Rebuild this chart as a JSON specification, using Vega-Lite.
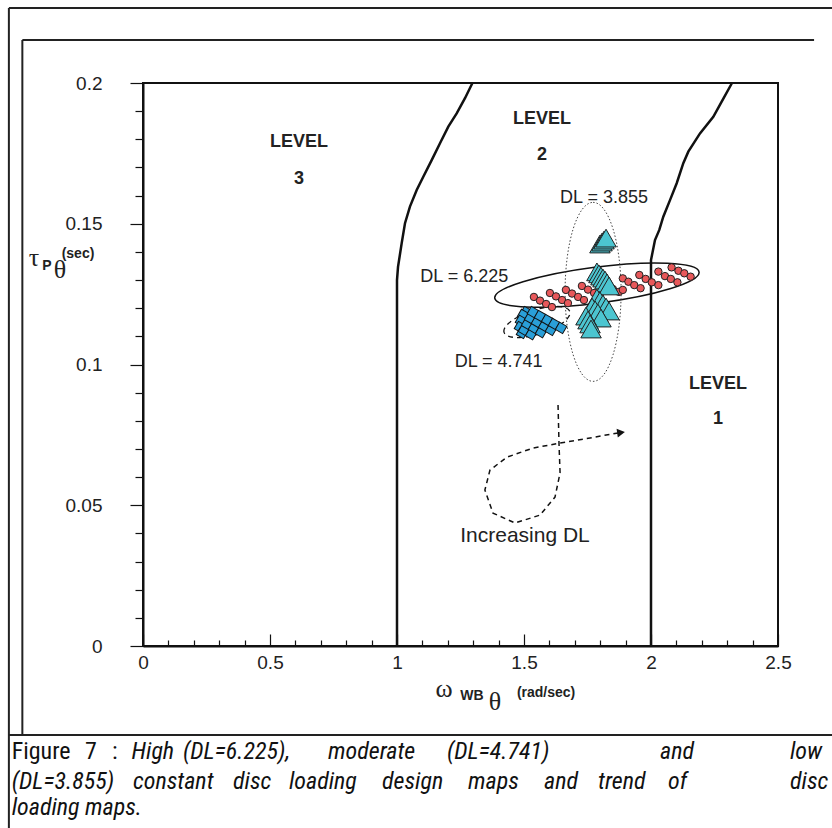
{
  "$schema": "https://vega.github.io/schema/vega-lite/v6.json",
  "width": 635,
  "height": 563,
  "autosize": "none",
  "padding": {"left": 143, "top": 83, "right": 54, "bottom": 182},
  "background": "white",
  "config": {"view": {"stroke": "#111", "strokeWidth": 2}, "font": "Liberation Sans"},
  "datasets": {
    "frame": [
      {"x": -0.528, "x2": 2.72, "y": 0.2266, "y2": 0.2266},
      {"x": -0.528, "x2": -0.528, "y": 0.2266, "y2": -0.07},
      {"x": -0.475, "x2": 2.642, "y": 0.2153, "y2": 0.2153},
      {"x": -0.475, "x2": -0.475, "y": 0.2153, "y2": -0.0316},
      {"x": -0.528, "x2": 2.72, "y": -0.0316, "y2": -0.0316}
    ],
    "curves": [
      {"c": "a", "o": 0, "x": 1.0, "y": 0},
      {"c": "a", "o": 1, "x": 1.0, "y": 0.13},
      {"c": "a", "o": 2, "x": 1.004, "y": 0.1347},
      {"c": "a", "o": 3, "x": 1.0185, "y": 0.1431},
      {"c": "a", "o": 4, "x": 1.0315, "y": 0.1502},
      {"c": "a", "o": 5, "x": 1.051, "y": 0.1561},
      {"c": "a", "o": 6, "x": 1.0776, "y": 0.162},
      {"c": "a", "o": 7, "x": 1.1035, "y": 0.1667},
      {"c": "a", "o": 8, "x": 1.1366, "y": 0.1726},
      {"c": "a", "o": 9, "x": 1.1693, "y": 0.1786},
      {"c": "a", "o": 10, "x": 1.202, "y": 0.1845},
      {"c": "a", "o": 11, "x": 1.235, "y": 0.1892},
      {"c": "a", "o": 12, "x": 1.2677, "y": 0.1946},
      {"c": "a", "o": 13, "x": 1.297, "y": 0.2},
      {"c": "b", "o": 0, "x": 2.0, "y": 0},
      {"c": "b", "o": 1, "x": 2.0, "y": 0.1371},
      {"c": "b", "o": 2, "x": 2.0157, "y": 0.1442},
      {"c": "b", "o": 3, "x": 2.0327, "y": 0.1478},
      {"c": "b", "o": 4, "x": 2.0484, "y": 0.1525},
      {"c": "b", "o": 5, "x": 2.0748, "y": 0.1584},
      {"c": "b", "o": 6, "x": 2.1012, "y": 0.1644},
      {"c": "b", "o": 7, "x": 2.1272, "y": 0.1715},
      {"c": "b", "o": 8, "x": 2.1469, "y": 0.1756},
      {"c": "b", "o": 9, "x": 2.1929, "y": 0.1821},
      {"c": "b", "o": 10, "x": 2.2453, "y": 0.188},
      {"c": "b", "o": 11, "x": 2.2783, "y": 0.1934},
      {"c": "b", "o": 12, "x": 2.3189, "y": 0.2}
    ],
    "circles": [
      {"x": 1.539, "y": 0.124}, {"x": 1.563, "y": 0.1227}, {"x": 1.587, "y": 0.1215}, {"x": 1.61, "y": 0.1204},
      {"x": 1.602, "y": 0.1254}, {"x": 1.626, "y": 0.1242}, {"x": 1.65, "y": 0.1229}, {"x": 1.673, "y": 0.1218},
      {"x": 1.665, "y": 0.1265}, {"x": 1.689, "y": 0.1252}, {"x": 1.713, "y": 0.124}, {"x": 1.736, "y": 0.1229},
      {"x": 1.728, "y": 0.1279}, {"x": 1.752, "y": 0.1266}, {"x": 1.776, "y": 0.1254}, {"x": 1.799, "y": 0.1243},
      {"x": 1.803, "y": 0.1293}, {"x": 1.827, "y": 0.1281}, {"x": 1.85, "y": 0.1268}, {"x": 1.874, "y": 0.1258},
      {"x": 1.889, "y": 0.1306}, {"x": 1.911, "y": 0.1294}, {"x": 1.934, "y": 0.1282}, {"x": 1.959, "y": 0.1271},
      {"x": 1.889, "y": 0.1265},
      {"x": 1.954, "y": 0.1318}, {"x": 1.979, "y": 0.1304}, {"x": 2.003, "y": 0.1292}, {"x": 2.029, "y": 0.1282},
      {"x": 2.029, "y": 0.133}, {"x": 2.055, "y": 0.1314}, {"x": 2.078, "y": 0.1304}, {"x": 2.104, "y": 0.1292},
      {"x": 2.081, "y": 0.1345}, {"x": 2.108, "y": 0.1333}, {"x": 2.131, "y": 0.1324}, {"x": 2.156, "y": 0.1312}
    ],
    "triangles": [
      {"x": 1.799, "y": 0.1428}, {"x": 1.8071, "y": 0.1435}, {"x": 1.815, "y": 0.1442}, {"x": 1.823, "y": 0.1449},
      {"x": 1.787, "y": 0.1329}, {"x": 1.795, "y": 0.1322}, {"x": 1.803, "y": 0.1314}, {"x": 1.811, "y": 0.1307},
      {"x": 1.819, "y": 0.13}, {"x": 1.827, "y": 0.129}, {"x": 1.835, "y": 0.1279},
      {"x": 1.787, "y": 0.1236}, {"x": 1.799, "y": 0.1226}, {"x": 1.811, "y": 0.1215}, {"x": 1.823, "y": 0.1204}, {"x": 1.835, "y": 0.119},
      {"x": 1.768, "y": 0.1204}, {"x": 1.78, "y": 0.1194}, {"x": 1.791, "y": 0.1183}, {"x": 1.803, "y": 0.1165},
      {"x": 1.744, "y": 0.1172}, {"x": 1.752, "y": 0.1158}, {"x": 1.76, "y": 0.1144}, {"x": 1.764, "y": 0.1126}
    ],
    "squares": [
      {"x": 1.508, "y": 0.1186}, {"x": 1.496, "y": 0.1176}, {"x": 1.488, "y": 0.1155}, {"x": 1.484, "y": 0.1133}, {"x": 1.492, "y": 0.1112},
      {"x": 1.5, "y": 0.1123}, {"x": 1.528, "y": 0.1108},
      {"x": 1.512, "y": 0.1144}, {"x": 1.539, "y": 0.113}, {"x": 1.567, "y": 0.1115},
      {"x": 1.524, "y": 0.1165}, {"x": 1.551, "y": 0.1151}, {"x": 1.579, "y": 0.1137}, {"x": 1.606, "y": 0.1123},
      {"x": 1.535, "y": 0.1186}, {"x": 1.563, "y": 0.1172}, {"x": 1.591, "y": 0.1158}, {"x": 1.618, "y": 0.1144}, {"x": 1.646, "y": 0.113}
    ],
    "ell1": [{"x": 1.787, "y": 0.1282}],
    "ell2": [{"x": 1.551, "y": 0.1151}],
    "ell3": [{"x": 1.772, "y": 0.1258}],
    "arrow": [
      {"o": 0, "x": 1.634, "y": 0.0856},
      {"o": 1, "x": 1.638, "y": 0.0714},
      {"o": 2, "x": 1.642, "y": 0.0615},
      {"o": 3, "x": 1.622, "y": 0.0529},
      {"o": 4, "x": 1.563, "y": 0.0465},
      {"o": 5, "x": 1.465, "y": 0.0437},
      {"o": 6, "x": 1.378, "y": 0.0472},
      {"o": 7, "x": 1.346, "y": 0.0554},
      {"o": 8, "x": 1.366, "y": 0.0625},
      {"o": 9, "x": 1.433, "y": 0.0671},
      {"o": 10, "x": 1.535, "y": 0.0703},
      {"o": 11, "x": 1.642, "y": 0.0721},
      {"o": 12, "x": 1.76, "y": 0.0739},
      {"o": 13, "x": 1.87, "y": 0.0757}
    ],
    "arrowhead": [{"x": 1.882, "y": 0.0758}],
    "levels": [
      {"x": 0.614, "y": 0.179, "t": "LEVEL"}, {"x": 0.614, "y": 0.1659, "t": "3"},
      {"x": 1.571, "y": 0.1872, "t": "LEVEL"}, {"x": 1.571, "y": 0.1744, "t": "2"},
      {"x": 2.264, "y": 0.0931, "t": "LEVEL"}, {"x": 2.264, "y": 0.0806, "t": "1"}
    ],
    "notes": [
      {"x": 1.815, "y": 0.1591, "t": "DL = 3.855"},
      {"x": 1.265, "y": 0.1311, "t": "DL = 6.225"},
      {"x": 1.4, "y": 0.1009, "t": "DL = 4.741"}
    ],
    "inc": [{"x": 1.504, "y": 0.0391, "t": "Increasing  DL"}],
    "greek": [
      {"x": -0.4291, "y": 0.1378, "t": "τ"},
      {"x": -0.3268, "y": 0.1336, "t": "θ"},
      {"x": 1.185, "y": -0.0153, "t": "ω"},
      {"x": 1.386, "y": -0.0199, "t": "θ"}
    ],
    "subs": [
      {"x": -0.378, "y": 0.135, "t": "P"},
      {"x": -0.2559, "y": 0.1393, "t": "(sec)"},
      {"x": 1.295, "y": -0.0178, "t": "WB"},
      {"x": 1.587, "y": -0.0167, "t": "(rad/sec)"}
    ],
    "capnormal": [
      {"x": -0.5169, "y": -0.0377, "t": "Figure"},
      {"x": -0.2283, "y": -0.0377, "t": "7"},
      {"x": -0.122, "y": -0.0377, "t": ":"}
    ],
    "capitalic": [
      {"x": -0.0449, "y": -0.0377, "t": "High"},
      {"x": 0.1575, "y": -0.0377, "t": "(DL=6.225),"},
      {"x": 0.7283, "y": -0.0377, "t": "moderate"},
      {"x": 1.1969, "y": -0.0377, "t": "(DL=4.741)"},
      {"x": 2.0354, "y": -0.0377, "t": "and"},
      {"x": 2.5472, "y": -0.0377, "t": "low"},
      {"x": -0.5169, "y": -0.0483, "t": "(DL=3.855)"},
      {"x": -0.0394, "y": -0.0483, "t": "constant"},
      {"x": 0.3543, "y": -0.0483, "t": "disc"},
      {"x": 0.5748, "y": -0.0483, "t": "loading"},
      {"x": 0.9409, "y": -0.0483, "t": "design"},
      {"x": 1.2795, "y": -0.0483, "t": "maps"},
      {"x": 1.5787, "y": -0.0483, "t": "and"},
      {"x": 1.7913, "y": -0.0483, "t": "trend"},
      {"x": 2.0669, "y": -0.0483, "t": "of"},
      {"x": 2.5472, "y": -0.0483, "t": "disc"},
      {"x": -0.5169, "y": -0.0575, "t": "loading maps."}
    ]
  },
  "encoding": {
    "x": {"field": "x", "type": "quantitative", "scale": {"domain": [0, 2.5], "nice": false, "zero": false},
      "axis": {"values": [0,0.1,0.2,0.3,0.4,0.5,0.6,0.7,0.8,0.9,1,1.1,1.2,1.3,1.4,1.5,1.6,1.7,1.8,1.9,2,2.1,2.2,2.3,2.4,2.5],
        "labelExpr": "abs(datum.value*2 - round(datum.value*2)) < 0.001 ? format(datum.value, '~g') : ''",
        "tickSize": {"condition": {"test": "abs(datum.value*2 - round(datum.value*2)) < 0.001", "value": -12}, "value": -6},
        "tickColor": "#111", "tickWidth": 1.2, "domainColor": "#111", "domainWidth": 2,
        "labelFontSize": 19, "labelColor": "#222", "labelPadding": 19, "labelOverlap": false, "labelFlush": false,
        "grid": false, "title": null}},
    "y": {"field": "y", "type": "quantitative", "scale": {"domain": [0, 0.2], "nice": false, "zero": false},
      "axis": {"values": [0,0.01,0.02,0.03,0.04,0.05,0.06,0.07,0.08,0.09,0.1,0.11,0.12,0.13,0.14,0.15,0.16,0.17,0.18,0.19,0.2],
        "labelExpr": "abs(datum.value*20 - round(datum.value*20)) < 0.001 ? format(datum.value, '~g') : ''",
        "tickSize": {"condition": {"test": "abs(datum.value*20 - round(datum.value*20)) < 0.001", "value": 13}, "value": 8},
        "tickColor": "#111", "tickWidth": 1.2, "domainColor": "#111", "domainWidth": 2,
        "labelFontSize": 19, "labelColor": "#222", "labelPadding": 28, "labelOverlap": false, "labelFlush": false,
        "grid": false, "title": null}}
  },
  "layer": [
    {
      "data": {"name": "curves"},
      "mark": {"type": "line", "color": "#111", "strokeWidth": 2.5},
      "encoding": {"detail": {"field": "c"}, "order": {"field": "o"}}
    },
    {
      "data": {"name": "frame"},
      "mark": {"type": "rule", "color": "#222", "strokeWidth": 2},
      "encoding": {"x2": {"field": "x2"}, "y2": {"field": "y2"}}
    },
    {
      "data": {"name": "ell1"},
      "mark": {"type": "point", "filled": false, "stroke": "#111", "strokeWidth": 1.5, "opacity": 1, "angle": 352.7, "size": 42436,
        "shape": "M-1,0C-1,-0.0966,-0.5523,-0.175,0,-0.175C0.5523,-0.175,1,-0.0966,1,0C1,0.0966,0.5523,0.175,0,0.175C-0.5523,0.175,-1,0.0966,-1,0Z"}
    },
    {
      "data": {"name": "ell2"},
      "mark": {"type": "point", "filled": false, "stroke": "#111", "strokeWidth": 1.3, "strokeDash": [5, 4], "opacity": 1, "angle": 342.4, "size": 4761,
        "shape": "M-1,0C-1,-0.1933,-0.5523,-0.35,0,-0.35C0.5523,-0.35,1,-0.1933,1,0C1,0.1933,0.5523,0.35,0,0.35C-0.5523,0.35,-1,0.1933,-1,0Z"}
    },
    {
      "data": {"name": "ell3"},
      "mark": {"type": "point", "filled": false, "stroke": "#444", "strokeWidth": 1, "strokeDash": [1.5, 2], "opacity": 1, "angle": 90, "size": 32041,
        "shape": "M-1,0C-1,-0.1729,-0.5523,-0.313,0,-0.313C0.5523,-0.313,1,-0.1729,1,0C1,0.1729,0.5523,0.313,0,0.313C-0.5523,0.313,-1,0.1729,-1,0Z"}
    },
    {
      "data": {"name": "squares"},
      "mark": {"type": "point", "shape": "square", "filled": true, "fill": "#2a9fd8", "stroke": "#111", "strokeWidth": 1, "opacity": 1, "size": 70, "angle": 30}
    },
    {
      "data": {"name": "circles"},
      "mark": {"type": "point", "shape": "circle", "filled": true, "fill": "#e8585a", "stroke": "#222", "strokeWidth": 1, "opacity": 1, "size": 55}
    },
    {
      "data": {"name": "triangles"},
      "mark": {"type": "point", "shape": "triangle-up", "filled": true, "fill": "#4cc5d0", "stroke": "#222", "strokeWidth": 1, "opacity": 1, "size": 420}
    },
    {
      "data": {"name": "arrow"},
      "mark": {"type": "line", "color": "#111", "strokeWidth": 1.5, "strokeDash": [5, 4], "interpolate": "linear"},
      "encoding": {"order": {"field": "o"}}
    },
    {
      "data": {"name": "arrowhead"},
      "mark": {"type": "point", "shape": "triangle-right", "filled": true, "fill": "#111", "opacity": 1, "size": 80, "angle": 352}
    },
    {
      "data": {"name": "levels"},
      "mark": {"type": "text", "font": "Liberation Sans", "fontSize": 18, "fontWeight": "bold", "color": "#222", "baseline": "middle", "align": "center"},
      "encoding": {"text": {"field": "t"}}
    },
    {
      "data": {"name": "notes"},
      "mark": {"type": "text", "font": "Liberation Sans", "fontSize": 18, "color": "#222", "baseline": "middle", "align": "center"},
      "encoding": {"text": {"field": "t"}}
    },
    {
      "data": {"name": "inc"},
      "mark": {"type": "text", "font": "Liberation Sans", "fontSize": 21, "color": "#222", "baseline": "middle", "align": "center"},
      "encoding": {"text": {"field": "t"}}
    },
    {
      "data": {"name": "greek"},
      "mark": {"type": "text", "font": "Liberation Serif", "fontSize": 26, "color": "#222", "baseline": "middle", "align": "center"},
      "encoding": {"text": {"field": "t"}}
    },
    {
      "data": {"name": "subs"},
      "mark": {"type": "text", "font": "Liberation Sans", "fontSize": 14, "fontWeight": "bold", "color": "#222", "baseline": "middle", "align": "center"},
      "encoding": {"text": {"field": "t"}}
    },
    {
      "data": {"name": "capnormal"},
      "mark": {"type": "text", "font": "Roboto Condensed, Liberation Sans Narrow, Arial Narrow, Liberation Sans", "fontSize": 24, "color": "#111", "baseline": "middle", "align": "left"},
      "encoding": {"text": {"field": "t"}}
    },
    {
      "data": {"name": "capitalic"},
      "mark": {"type": "text", "font": "Roboto Condensed, Liberation Sans Narrow, Arial Narrow, Liberation Sans", "fontSize": 24, "fontStyle": "italic", "color": "#111", "baseline": "middle", "align": "left"},
      "encoding": {"text": {"field": "t"}}
    }
  ]
}
